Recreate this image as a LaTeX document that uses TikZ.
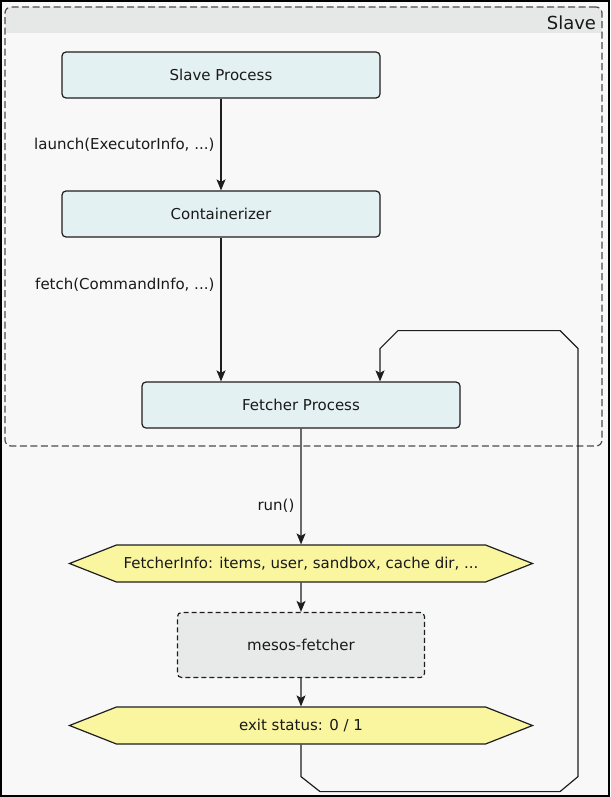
\documentclass[tikz,border=0pt]{standalone}
\usepackage{fontspec}
\setmainfont{DejaVu Sans}
\usetikzlibrary{arrows.meta,shapes.symbols}
\definecolor{bgcol}{RGB}{248,248,248}
\definecolor{headfill}{RGB}{230,232,232}
\definecolor{procfill}{RGB}{228,241,243}
\definecolor{msgfill}{RGB}{250,246,160}
\definecolor{toolfill}{RGB}{232,233,233}
\definecolor{edgecol}{RGB}{30,30,30}

\begin{document}
\begin{tikzpicture}[x=1pt,y=-1pt,line width=1.2pt,
    every node/.style={font=\fontsize{15}{18}\selectfont,text=black!90},
    >={Stealth[length=11pt,width=9pt,inset=2.5pt]},
    proc/.style={draw=edgecol,fill=procfill,rounded corners=4pt,
      minimum width=318pt,minimum height=46pt,inner sep=0pt},
    msg/.style={signal,signal to=west and east,signal pointer angle=43,
      draw=edgecol,fill=msgfill,minimum width=463pt,minimum height=37pt,inner sep=0pt},
    tool/.style={draw=edgecol,dashed,dash pattern=on 5pt off 3pt,fill=toolfill,
      rounded corners=4pt,minimum width=247pt,minimum height=65pt},
    lbl/.style={left,inner sep=6pt}]
  \useasboundingbox (0,0) rectangle (610,797);
  \fill[bgcol] (0,0) rectangle (610,797);
  \draw[line width=2pt] (1,1) rectangle (609,796);
  % slave area
  \begin{scope}
    \clip (0,0) rectangle (610,33);
    \fill[headfill,rounded corners=6pt] (5,7) rectangle (602,60);
  \end{scope}
  \node[draw=black!70,dash pattern=on 7pt off 3.5pt,rounded corners=6pt,
    minimum width=597pt,minimum height=439pt,inner sep=0pt] (slavebox) at (303.5,226.5) {};
  \node[anchor=north east,font=\fontsize{18}{20}\selectfont,inner sep=0pt]
    at ([xshift=-6pt,yshift=-9pt]slavebox.north east) {Slave};
  % boxes
  \node[proc] (slavep) at (221,75) {Slave Process};
  \node[proc] (cont) at (221,214) {Containerizer};
  \node[proc] (fetchp) at (301,405) {Fetcher Process};
  \node[msg] (finfo) at (301,563.5) {FetcherInfo: items, user, sandbox, cache dir, ...};
  \node[tool] (mfetch) at (301,645) {mesos-fetcher};
  \node[msg] (exitst) at (301,725.5) {exit status: 0 / 1};
  \coordinate (loopx) at (380,0);
  % calls
  \draw[->,edgecol] (slavep) -- node[lbl]{launch(ExecutorInfo, ...)} (cont);
  \draw[->,edgecol] (cont.south) -- node[lbl,pos=0.33]{fetch(CommandInfo, ...)}
    (cont.south |- fetchp.north);
  \draw[->,edgecol] (fetchp) -- node[lbl,pos=0.67]{run()} (finfo);
  \draw[->,edgecol] (finfo) -- (mfetch);
  \draw[->,edgecol] (mfetch) -- (exitst);
  \draw[->,edgecol] (exitst.south) -- ++(0,32) -- ++(19,15) -- ++(240,0)
    -- ++(18,-15) -- ++(0,-428) -- ++(-18,-18) -- ++(-162,0) -- ++(-18,18)
    -- (fetchp.north -| loopx);
\end{tikzpicture}
\end{document}
